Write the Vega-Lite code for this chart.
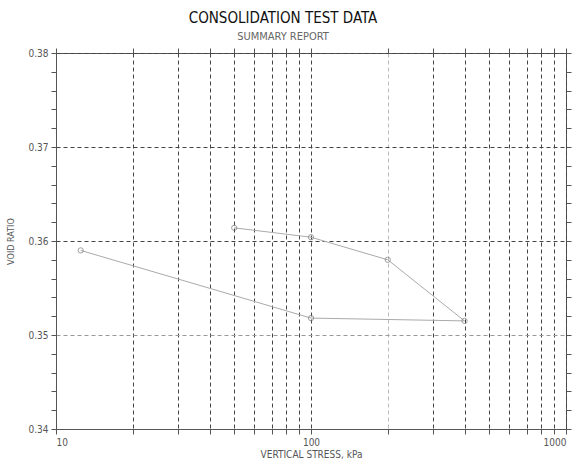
{
  "$schema": "https://vega.github.io/schema/vega-lite/v6.json",
  "width": 510,
  "height": 376,
  "autosize": {"type": "none"},
  "padding": {"left": 56, "top": 53, "right": 7, "bottom": 39},
  "background": "white",
  "title": {
    "text": "CONSOLIDATION TEST DATA",
    "subtitle": "SUMMARY REPORT",
    "font": "DejaVu Sans Condensed, DejaVu Sans",
    "fontSize": 15,
    "fontWeight": "normal",
    "color": "#111",
    "subtitleFont": "DejaVu Sans Condensed, DejaVu Sans",
    "subtitleFontSize": 11,
    "subtitleColor": "#666",
    "subtitlePadding": 5,
    "offset": 6,
    "anchor": "middle",
    "dx": -28
  },
  "config": {
    "view": {"stroke": "#555", "strokeWidth": 1},
    "axis": {
      "labelFont": "DejaVu Sans Condensed, DejaVu Sans",
      "titleFont": "DejaVu Sans Condensed, DejaVu Sans",
      "labelColor": "#555",
      "titleColor": "#555",
      "titleFontWeight": "normal",
      "labelFontSize": 10,
      "titleFontSize": 10,
      "domainColor": "#555",
      "tickColor": "#555"
    }
  },
  "data": {
    "values": [
      {"stress": 50, "e": 0.3614, "ord": 1},
      {"stress": 100, "e": 0.3604, "ord": 2},
      {"stress": 200, "e": 0.358, "ord": 3},
      {"stress": 400, "e": 0.3515, "ord": 4},
      {"stress": 100, "e": 0.3518, "ord": 5},
      {"stress": 12.5, "e": 0.3590, "ord": 6}
    ]
  },
  "layer": [
    {
      "mark": {"type": "line", "color": "#aaa", "strokeWidth": 1},
      "encoding": {
        "x": {
          "field": "stress", "type": "quantitative",
          "scale": {"type": "log", "domain": [10, 1000], "nice": false},
          "axis": {
            "orient": "bottom",
            "title": "VERTICAL STRESS, kPa",
            "titlePadding": 2,
            "values": [10,20,30,40,50,60,70,80,90,100,200,300,400,500,600,700,800,900,1000],
            "labelExpr": "(datum.value==10||datum.value==100||datum.value==1000) ? datum.label : ''",
            "format": "d",
            "grid": true,
            "gridDash": [4, 3],
            "gridColor": {"condition": {"test": "datum.value==200", "value": "#bbb"}, "value": "#444"},
            "tickSize": 5,
            "labelPadding": 3
          }
        },
        "y": {
          "field": "e", "type": "quantitative",
          "scale": {"domain": [0.34, 0.38], "nice": false, "zero": false},
          "axis": {
            "title": "VOID RATIO",
            "titlePadding": 12,
            "titleFontSize": 9,
            "values": [0.34,0.342,0.344,0.346,0.348,0.35,0.352,0.354,0.356,0.358,0.36,0.362,0.364,0.366,0.368,0.37,0.372,0.374,0.376,0.378,0.38],
            "labelExpr": "abs(datum.value*100 - round(datum.value*100)) < 1e-6 ? format(datum.value, '.2f') : ''",
            "grid": true,
            "gridDash": [4, 3],
            "gridOpacity": {"condition": {"test": "abs(datum.value*100 - round(datum.value*100)) < 1e-6", "value": 1}, "value": 0},
            "gridColor": {"condition": {"test": "abs(datum.value-0.35) < 1e-6", "value": "#999"}, "value": "#444"},
            "tickSize": 5,
            "labelPadding": 3
          }
        },
        "order": {"field": "ord", "type": "quantitative"}
      }
    },
    {
      "mark": {"type": "point", "shape": "circle", "filled": false, "size": 28, "stroke": "#777", "strokeWidth": 1},
      "encoding": {
        "x": {
          "field": "stress", "type": "quantitative",
          "scale": {"type": "log", "domain": [10, 1000], "nice": false},
          "axis": {
            "orient": "top", "title": null, "labels": false, "domain": false,
            "values": [10,20,30,40,50,60,70,80,90,100,200,300,400,500,600,700,800,900,1000],
            "tickSize": 5, "grid": false
          }
        },
        "y": {
          "field": "e", "type": "quantitative",
          "scale": {"domain": [0.34, 0.38], "nice": false, "zero": false},
          "axis": {
            "orient": "right", "title": null, "labels": false, "domain": false,
            "values": [0.34,0.342,0.344,0.346,0.348,0.35,0.352,0.354,0.356,0.358,0.36,0.362,0.364,0.366,0.368,0.37,0.372,0.374,0.376,0.378,0.38],
            "tickSize": 5, "grid": false
          }
        }
      }
    }
  ],
  "resolve": {"axis": {"x": "independent", "y": "independent"}}
}
